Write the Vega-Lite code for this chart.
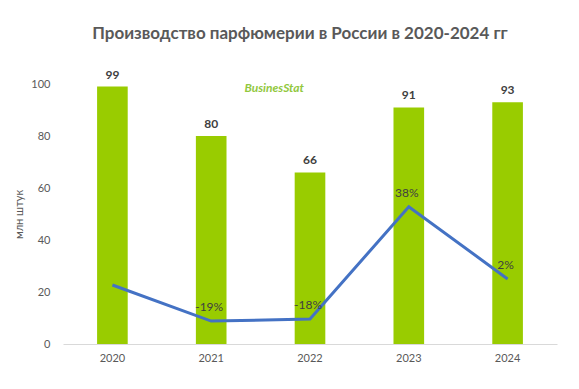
{
  "$schema": "https://vega.github.io/schema/vega-lite/v6.json",
  "autosize": "none",
  "width": 494,
  "height": 260,
  "padding": {"left": 63, "top": 84, "right": 22, "bottom": 45},
  "background": "white",
  "config": {"view": {"stroke": null}, "font": "Lato"},
  "title": {
    "text": "Производство парфюмерии в России в 2020-2024 гг",
    "font": "Lato",
    "fontSize": 17,
    "fontWeight": "bold",
    "color": "#595959",
    "anchor": "middle",
    "dx": -10,
    "offset": 26
  },
  "data": {
    "values": [
      {"year": "2020", "value": 99, "growth": -1, "glabel": ""},
      {"year": "2021", "value": 80, "growth": -19, "glabel": "-19%"},
      {"year": "2022", "value": 66, "growth": -18, "glabel": "-18%"},
      {"year": "2023", "value": 91, "growth": 38, "glabel": "38%"},
      {"year": "2024", "value": 93, "growth": 2, "glabel": "2%"}
    ]
  },
  "encoding": {
    "x": {
      "field": "year",
      "type": "nominal",
      "scale": {"paddingInner": 0.69, "paddingOuter": 0.345},
      "axis": {
        "title": null,
        "labelAngle": 0,
        "labelColor": "#595959",
        "labelFontSize": 11,
        "labelPadding": 8,
        "ticks": false,
        "domainColor": "#d9d9d9",
        "domainWidth": 1
      }
    }
  },
  "layer": [
    {
      "layer": [
        {
          "mark": {"type": "bar", "color": "#99cc00"},
          "encoding": {
            "y": {
              "field": "value",
              "type": "quantitative",
              "scale": {"domain": [0, 100], "nice": false},
              "axis": {
                "title": "млн  штук",
                "titleFontWeight": "normal",
                "titleFontSize": 11,
                "titleColor": "#595959",
                "titlePadding": 6,
                "labelColor": "#595959",
                "labelFontSize": 11,
                "labelPadding": 13,
                "values": [0, 20, 40, 60, 80, 100],
                "labelOverlap": false,
                "grid": false,
                "domain": false,
                "ticks": false
              }
            }
          }
        },
        {
          "mark": {"type": "text", "dy": -12, "fontWeight": "bold", "fontSize": 12, "color": "#404040"},
          "encoding": {
            "y": {"field": "value", "type": "quantitative"},
            "text": {"field": "value", "type": "quantitative"}
          }
        },
        {
          "data": {"values": [{"year": "2021", "logo": "BusinesStat", "v": 98.5}]},
          "mark": {"type": "text", "dx": 63, "fontSize": 12, "fontStyle": "italic", "fontWeight": "bold", "color": "#92c83e", "font": "Lato"},
          "encoding": {
            "y": {"field": "v", "type": "quantitative"},
            "text": {"field": "logo", "type": "nominal"}
          }
        }
      ]
    },
    {
      "layer": [
        {
          "mark": {"type": "line", "color": "#4472c4", "strokeWidth": 3},
          "encoding": {
            "y": {
              "field": "growth",
              "type": "quantitative",
              "scale": {"domain": [-30.4, 99.1], "nice": false, "zero": false},
              "axis": null
            }
          }
        },
        {
          "mark": {"type": "text", "dy": -14, "dx": -2, "fontSize": 12, "color": "#404040"},
          "encoding": {
            "y": {"field": "growth", "type": "quantitative"},
            "text": {"field": "glabel", "type": "nominal"}
          }
        }
      ]
    }
  ],
  "resolve": {"scale": {"y": "independent"}}
}
